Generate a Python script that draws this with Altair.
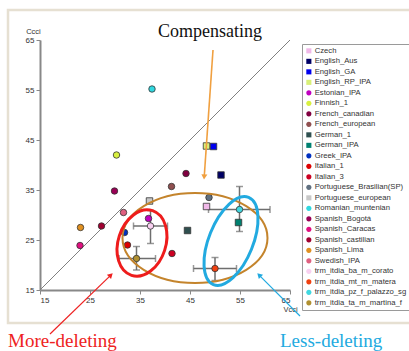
import math
import altair as alt
import pandas as pd

# ---------------- data ----------------
names = ["Czech", "English_Aus", "English_GA", "English_RP_IPA", "Estonian_IPA",
         "Finnish_1", "French_canadian", "French_european", "German_1", "German_IPA",
         "Greek_IPA", "Italian_1", "Italian_3", "Portuguese_Brasilian(SP)",
         "Portuguese_european", "Romanian_muntenian", "Spanish_Bogotá",
         "Spanish_Caracas", "Spanish_castilian", "Spanish_Lima", "Swedish_IPA",
         "trm_itdia_ba_m_corato", "trm_itdia_mt_m_matera",
         "trm_itdia_pz_f_palazzo_sg", "trm_itdia_ta_m_martina_f"]
shapes = ["square", "square", "square", "square", "circle",
          "circle", "circle", "circle", "square", "square",
          "circle", "circle", "circle", "circle",
          "square", "circle", "circle",
          "circle", "circle", "circle", "circle",
          "circle", "circle", "circle", "circle"]
colors = ["#F0B8E8", "#000066", "#0000EE", "#D8F078", "#C000C0",
          "#D8F040", "#800040", "#905050", "#2F4F4F", "#008070",
          "#0030C0", "#DD0000", "#CC0022", "#607080",
          "#C8C8C8", "#30D8E0", "#990055",
          "#E0107F", "#A00030", "#E09020", "#E06080",
          "#F8D0F0", "#F04010", "#40D8E0", "#B09030"]
vcci = [48.3, 51.2, 49.7, 48.3, 36.7,
        30.3, 44.2, 41.3, 44.5, 54.7,
        31.9, 32.5, 41.4, 48.8,
        36.9, 37.4, 29.9,
        23.0, 27.3, 23.1, 31.7,
        37.1, 50.0, 54.9, 34.3]
ccci = [31.7, 38.0, 43.7, 43.8, 29.3,
        42.0, 38.3, 35.7, 26.9, 28.5,
        26.5, 24.0, 22.3, 33.5,
        32.8, 55.2, 34.8,
        23.9, 27.8, 27.5, 30.5,
        27.8, 19.3, 31.1, 21.3]

err_names = ["trm_itdia_ba_m_corato", "trm_itdia_mt_m_matera",
             "trm_itdia_pz_f_palazzo_sg", "trm_itdia_ta_m_martina_f"]
err_x = [37.1, 50.0, 54.9, 34.3]
err_y = [27.8, 19.3, 31.1, 21.3]
err_xlo = [33.7, 45.7, 48.7, 30.8]
err_xhi = [40.5, 54.3, 61.0, 38.1]
err_ylo = [24.3, 16.9, 26.7, 19.0]
err_yhi = [30.9, 21.5, 35.7, 23.7]

diag_v = [15, 65]
tick_vals = [15, 25, 35, 45, 55, 65]

# ---------------- tables ----------------
pts = pd.DataFrame({"name": names, "Vcci": vcci, "Ccci": ccci})
errs = pd.DataFrame({"name": err_names, "x": err_x, "y": err_y,
                     "xlo": err_xlo, "xhi": err_xhi, "ylo": err_ylo, "yhi": err_yhi})
diag = pd.DataFrame({"x": diag_v, "y": diag_v})
one = pd.DataFrame({"k": [0]})

xs = alt.Scale(domain=[15, 65], nice=False, zero=False)
ys = alt.Scale(domain=[15, 65], nice=False, zero=False)
SANS = "Liberation Sans"
SERIF = "Liberation Serif"

# frame
frame = alt.Chart(one).mark_rect(filled=False, stroke="#E6E0D2", strokeWidth=2.5).encode(
    x=alt.value(-32), x2=alt.value(385), y=alt.value(-30), y2=alt.value(283))

diag_line = alt.Chart(diag).mark_line(color="#808080", strokeWidth=1).encode(
    x=alt.X("x:Q", scale=xs,
            axis=alt.Axis(values=tick_vals, title="Vcci", titleX=250, titleY=19,
                          titleBaseline="middle", titleAlign="center")),
    y=alt.Y("y:Q", scale=ys,
            axis=alt.Axis(values=tick_vals, title="Ccci", titleAngle=0, titleX=-7,
                          titleY=-9, titleBaseline="middle", titleAlign="center")))

ebar_col = "#6E6E6E"
hbar = alt.Chart(errs).mark_rule(color=ebar_col, strokeWidth=1.5).encode(
    x=alt.X("xlo:Q", scale=xs), x2="xhi:Q", y=alt.Y("y:Q", scale=ys))
vbar = alt.Chart(errs).mark_rule(color=ebar_col, strokeWidth=1.5).encode(
    x=alt.X("x:Q", scale=xs), y=alt.Y("ylo:Q", scale=ys), y2="yhi:Q")
cap_l = alt.Chart(errs).mark_tick(orient="vertical", color=ebar_col, size=7, thickness=1.5).encode(
    x=alt.X("xlo:Q", scale=xs), y=alt.Y("y:Q", scale=ys))
cap_r = alt.Chart(errs).mark_tick(orient="vertical", color=ebar_col, size=7, thickness=1.5).encode(
    x=alt.X("xhi:Q", scale=xs), y=alt.Y("y:Q", scale=ys))
cap_b = alt.Chart(errs).mark_tick(orient="horizontal", color=ebar_col, size=7, thickness=1.5).encode(
    x=alt.X("x:Q", scale=xs), y=alt.Y("ylo:Q", scale=ys))
cap_t = alt.Chart(errs).mark_tick(orient="horizontal", color=ebar_col, size=7, thickness=1.5).encode(
    x=alt.X("x:Q", scale=xs), y=alt.Y("yhi:Q", scale=ys))

leg = alt.Legend(title=None, orient="none", legendX=262, legendY=4, padding=3,
                 strokeColor="#9A9A9A", fillColor="white", labelFont=SANS,
                 labelFontSize=7.7, labelColor="#333333", symbolSize=26,
                 symbolStrokeColor="#444444", symbolStrokeWidth=0.8,
                 rowPadding=1.5, labelOffset=2, labelLimit=200, symbolOpacity=1)

points = alt.Chart(pts).mark_point(filled=True, size=42, stroke="#333333",
                                   strokeWidth=0.8, opacity=1).encode(
    x=alt.X("Vcci:Q", scale=xs),
    y=alt.Y("Ccci:Q", scale=ys),
    color=alt.Color("name:N", scale=alt.Scale(domain=names, range=colors), legend=leg),
    shape=alt.Shape("name:N", scale=alt.Scale(domain=names, range=shapes), legend=leg),
)


def ellipse(cx, cy, major, ratio, angle, color, width):
    path = f"M -1 0 A 1 {ratio} 0 1 1 1 0 A 1 {ratio} 0 1 1 -1 0 Z"
    return alt.Chart(one).mark_point(shape=path, size=(2 * major) ** 2, filled=False,
                                     stroke=color, strokeWidth=width, opacity=1,
                                     angle=angle).encode(
        x=alt.value(cx), y=alt.value(cy))


ell_brown = ellipse(155, 198, 72.5, 0.62, 0, "#C4842C", 2)
ell_red = ellipse(102, 203, 34, 0.7, 108, "#EE1C1C", 3)
ell_blue = ellipse(191, 201, 47, 0.47, 112, "#22AAE0", 3)


def arrow(x1, y1, x2, y2, color, width, head):
    dx, dy = x2 - x1, y2 - y1
    n = math.hypot(dx, dy)
    ang = math.degrees(math.atan2(dx, -dy)) % 360
    hx, hy = x2 - dx / n * 3, y2 - dy / n * 3
    line = alt.Chart(one).mark_rule(color=color, strokeWidth=width).encode(
        x=alt.value(x1), y=alt.value(y1), x2=alt.value(hx), y2=alt.value(hy))
    tip = alt.Chart(one).mark_point(shape="triangle-up", size=head, filled=True,
                                    color=color, opacity=1, angle=ang).encode(
        x=alt.value(hx), y=alt.value(hy))
    return line + tip


arr_orange = arrow(173, 10, 164, 140, "#F0A040", 1.6, 36)
arr_red = arrow(10, 294, 73, 233, "#EE2222", 1.2, 36)
arr_blue = arrow(260, 276, 217, 233, "#22AAE0", 1.2, 36)


def label(text, x, y, color, size, align):
    return alt.Chart(one).mark_text(text=text, font=SERIF, fontSize=size, color=color,
                                    align=align, baseline="alphabetic").encode(
        x=alt.value(x), y=alt.value(y))


t_comp = label("Compensating", 170, -3, "#111111", 18, "center")
t_more = label("More-deleting", -32, 307, "#EE2222", 19, "left")
t_less = label("Less-deleting", 240, 307, "#22AAE0", 19, "left")

chart = alt.layer(
    frame, diag_line, hbar, vbar, cap_l, cap_r, cap_b, cap_t, points,
    ell_brown, ell_red, ell_blue, arr_orange, arr_red, arr_blue,
    t_comp, t_more, t_less,
).properties(
    width=250, height=250,
    autosize=alt.AutoSizeParams(type="none"),
    padding={"left": 40, "top": 40, "right": 119, "bottom": 61},
    background="white",
).configure_view(stroke=None).configure_axis(
    grid=False, domainColor="#888888", domainWidth=2, tickColor="#888888",
    tickSize=4, labelFont=SANS, labelFontSize=8, labelColor="#333333",
    titleFont=SANS, titleFontSize=7.5, titleFontWeight="normal", titleColor="#333333",
    labelPadding=2,
)

chart.save("out.html", embed_options={"renderer": "svg", "actions": False})
